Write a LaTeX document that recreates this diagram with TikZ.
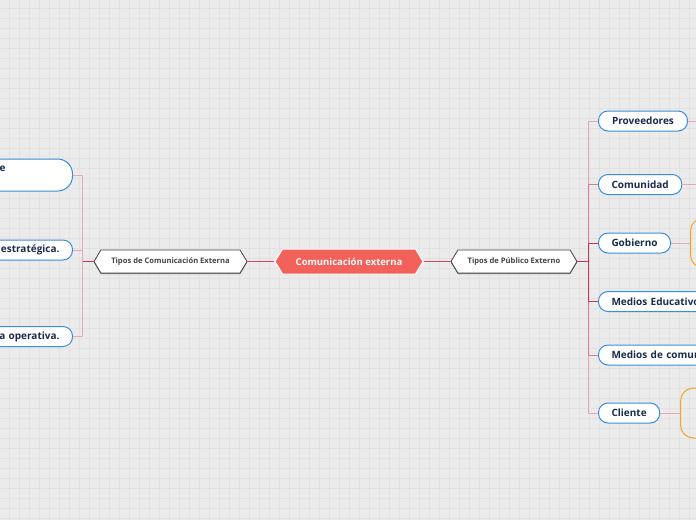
\documentclass[tikz,border=0pt]{standalone}
\usepackage{fontspec}
\setmainfont{Open Sans}
\usetikzlibrary{shapes.symbols,shadows}
\definecolor{bg}{HTML}{EBEBEB}
\definecolor{gridc}{HTML}{E2E2E2}
\definecolor{pillb}{HTML}{3A8DDA}
\definecolor{navy}{HTML}{1B2B4B}
\definecolor{coral}{HTML}{F2625A}
\definecolor{cdark}{HTML}{CC3350}
\definecolor{ccen}{HTML}{D8455C}
\definecolor{cmid}{HTML}{DA7D91}
\definecolor{clight}{HTML}{E8A9B5}
\definecolor{orng}{HTML}{F5A623}
\definecolor{hexb}{HTML}{444444}
\begin{document}
\begin{tikzpicture}[x=1pt,y=-1pt,
  pill/.style={draw=pillb, line width=1pt, fill=white, rounded corners=9.5pt,
    minimum height=20pt, inner xsep=13pt, inner ysep=0pt,
    font=\fontsize{10}{12}\selectfont\bfseries, text=navy},
  hexbox/.style={shape=signal, signal to=west and east, signal pointer angle=118,
    draw=hexb, line width=0.8pt, fill=white, minimum height=23pt, inner ysep=0pt,
    inner xsep=2pt, font=\fontsize{7.6}{9}\selectfont\bfseries, text=hexb,
    drop shadow={shadow xshift=0pt, shadow yshift=-1.2pt, fill=black!55, opacity=1}},
  mainhex/.style={shape=signal, signal to=west and east, signal pointer angle=118,
    draw=white, line width=1pt, fill=coral, minimum height=25pt, inner ysep=0pt,
    inner xsep=2pt, font=\fontsize{9.5}{11}\selectfont\bfseries, text=white},
  obox/.style={draw=orng, line width=1pt, rounded corners=13pt, minimum width=60pt},
  lk/.style={line width=1pt},
]
\useasboundingbox (0,0) rectangle (696,520);
\fill[bg] (0,0) rectangle (696,520);
\foreach \i in {0,...,69} \draw[gridc, line width=0.6pt] (9.5+10*\i,0) -- (9.5+10*\i,520);
\foreach \j in {0,...,51} \draw[gridc, line width=0.6pt] (0,8.5+10*\j) -- (696,8.5+10*\j);

% main nodes
\node[mainhex, minimum width=148pt] (center) at (349,261.5) {Comunicación externa};
\node[hexbox, minimum width=153pt] (lt) at (170.5,261.5) {Tipos de Comunicación Externa};
\node[hexbox, minimum width=126pt] (rt) at (514,261.5) {Tipos de Público Externo};

% right children
\node[pill, minimum width=89pt, anchor=west] (prov) at (598,121) {Proveedores};
\node[pill, minimum width=83pt, anchor=west] (comu) at (598,184.5) {Comunidad};
\node[pill, minimum width=71pt, anchor=west] (gob) at (598,243) {Gobierno};
\node[pill, text width=100pt, align=left, anchor=west] (medu) at (598,301.5) {Medios Educativo};
\node[pill, text width=100pt, align=left, anchor=west] (mcom) at (598,355) {Medios de comun};
\node[pill, minimum width=61pt, anchor=west] (cli) at (598,413) {Cliente};

% orange boxes
\node[obox, minimum height=50pt, anchor=west] (gobo) at (690,243) {};
\node[obox, minimum height=50pt, anchor=west] (clio) at (680,413) {};
\coordinate (provo) at (697,121);
\coordinate (comuo) at (697,184.5);

% left children
\node[pill, minimum height=32pt, rounded corners=15pt, text width=100pt, align=left, anchor=east] (lt1) at (73,175) {\hspace*{40pt}e\\\mbox{}};
\node[pill, text width=100pt, align=right, anchor=east] (lt2) at (73,250) {estratégica.};
\node[pill, text width=100pt, align=right, anchor=east] (lt3) at (73,336.5) {a operativa.};

% connectors: center
\draw[line width=1.1pt, draw=ccen] (center.west) -- (lt.east);
\draw[line width=1.1pt, draw=ccen] (center.east) -- (rt.west);

% right trunk (outer first, inner last)
\draw[lk, draw=clight] (rt.east) -- ++(11,0) |- (prov.west);
\draw[lk, draw=clight] (rt.east) -- ++(11,0) |- (cli.west);
\draw[lk, draw=cmid] (rt.east) -- ++(11,0) |- (comu.west);
\draw[lk, draw=cmid] (rt.east) -- ++(11,0) |- (mcom.west);
\draw[lk, draw=cdark] (rt.east) -- ++(11,0) |- (gob.west);
\draw[lk, draw=cdark] (rt.east) -- ++(11,0) |- (medu.west);

% right leaf connectors
\draw[lk, draw=clight] (prov.east) -- (provo);
\draw[lk, draw=clight] (comu.east) -- (comuo);
\draw[lk, draw=clight] (gob.east) -- (gobo.west);
\draw[lk, draw=clight] (cli.east) -- (clio.west);

% left trunk
\draw[lk, draw=clight] (lt.west) -- ++(-11,0) |- (lt1.east);
\draw[lk, draw=clight] (lt.west) -- ++(-11,0) |- (lt3.east);
\draw[lk, draw=clight] (lt.west) -- ++(-11,0) |- (lt2.east);
\draw[line width=1.1pt, draw=cdark] (lt.west) -- ++(-11,0);
\draw[line width=1.1pt, draw=cdark] (rt.east) -- ++(11,0);
\end{tikzpicture}
\end{document}
